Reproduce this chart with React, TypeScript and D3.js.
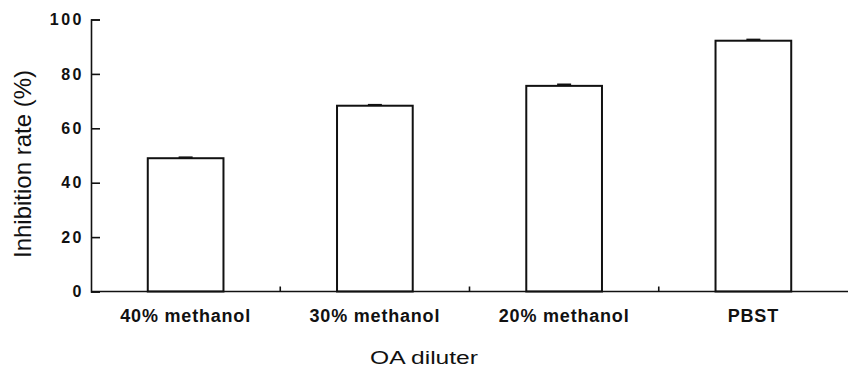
import { useEffect, useRef } from "react";
import * as d3 from "d3";

const categories = ["40% methanol", "30% methanol", "20% methanol", "PBST"];
const values = [49.0, 68.3, 75.6, 92.2];
const errors = [0.3, 0.3, 0.5, 0.4];
const yTicks = [0, 20, 40, 60, 80, 100];

const W = 848;
const H = 369;
const dims = { left: 91, right: 0, top: 19.5, bot: 77.5 };

export default function App() {
  const ref = useRef<SVGSVGElement>(null);

  useEffect(() => {
    const svg = d3.select(ref.current);
    svg.selectAll("*").remove();

    const x = d3
      .scaleBand()
      .domain(categories)
      .range([dims.left, W - dims.right])
      .paddingInner(0.6)
      .paddingOuter(0.3);

    const y = d3
      .scaleLinear()
      .domain([0, 100])
      .range([H - dims.bot, dims.top]);

    const ink = "#111";

    // bars
    svg
      .append("g")
      .selectAll("rect")
      .data(values)
      .join("rect")
      .attr("x", (d, i) => x(categories[i])!)
      .attr("y", (d) => y(d))
      .attr("width", x.bandwidth())
      .attr("height", (d) => y(0) - y(d))
      .attr("fill", "white")
      .attr("stroke", ink)
      .attr("stroke-width", 2);

    // error bars
    const eb = svg.append("g").attr("stroke", ink).attr("stroke-width", 2);
    values.forEach((v, i) => {
      const cx = x(categories[i])! + x.bandwidth() / 2;
      eb.append("line")
        .attr("x1", cx)
        .attr("x2", cx)
        .attr("y1", y(v))
        .attr("y2", y(v + errors[i]));
      eb.append("line")
        .attr("x1", cx - 7)
        .attr("x2", cx + 7)
        .attr("y1", y(v + errors[i]))
        .attr("y2", y(v + errors[i]));
    });

    // x axis
    const xg = svg.append("g").attr("stroke", ink).attr("stroke-width", 1.6);
    xg.append("line")
      .attr("x1", dims.left)
      .attr("x2", W)
      .attr("y1", y(0))
      .attr("y2", y(0));
    const step = x.step();
    categories.slice(0, -1).forEach((c) => {
      const bx = x(c)! + x.bandwidth() + (step - x.bandwidth()) / 2;
      xg.append("line")
        .attr("x1", bx)
        .attr("x2", bx)
        .attr("y1", y(0))
        .attr("y2", y(0) - 5);
    });

    svg
      .append("g")
      .selectAll("text")
      .data(categories)
      .join("text")
      .attr("x", (d) => x(d)! + x.bandwidth() / 2)
      .attr("y", y(0) + 30.5)
      .attr("text-anchor", "middle")
      .attr("font-family", "Liberation Sans, Arial, sans-serif")
      .attr("font-weight", "bold")
      .attr("font-size", 18)
      .attr("letter-spacing", 0.8)
      .attr("fill", ink)
      .text((d) => d);

    // y axis
    const yg = svg
      .append("g")
      .attr("transform", "translate(" + dims.left + ",0)")
      .call(
        d3
          .axisLeft(y)
          .tickValues(yTicks)
          .tickSize(-9)
          .tickPadding(8)
          .tickFormat(d3.format("d"))
      );
    yg.select(".domain").attr("stroke", ink).attr("stroke-width", 1.6);
    yg.selectAll(".tick line").attr("stroke", ink).attr("stroke-width", 1.6);
    yg.selectAll(".tick text")
      .attr("x", -7)
      .attr("font-family", "Liberation Sans, Arial, sans-serif")
      .attr("font-weight", "bold")
      .attr("font-size", 16)
      .attr("letter-spacing", 2.5)
      .attr("fill", ink);

    // titles
    svg
      .append("text")
      .attr("transform", "translate(31," + 164 + ") rotate(-90)")
      .attr("text-anchor", "middle")
      .attr("font-family", "Liberation Sans, Arial, sans-serif")
      .attr("font-size", 24)
      .attr("textLength", 188)
      .attr("lengthAdjust", "spacingAndGlyphs")
      .attr("fill", ink)
      .text("Inhibition rate (%)");

    svg
      .append("text")
      .attr("x", 424)
      .attr("y", 363.5)
      .attr("text-anchor", "middle")
      .attr("font-family", "Liberation Sans, Arial, sans-serif")
      .attr("font-size", 18)
      .attr("textLength", 108)
      .attr("lengthAdjust", "spacingAndGlyphs")
      .attr("fill", ink)
      .text("OA diluter");
  }, []);

  return (
    <svg
      ref={ref}
      width={W}
      height={H}
      style={{ position: "absolute", left: 0, top: 0, background: "white" }}
    />
  );
}
